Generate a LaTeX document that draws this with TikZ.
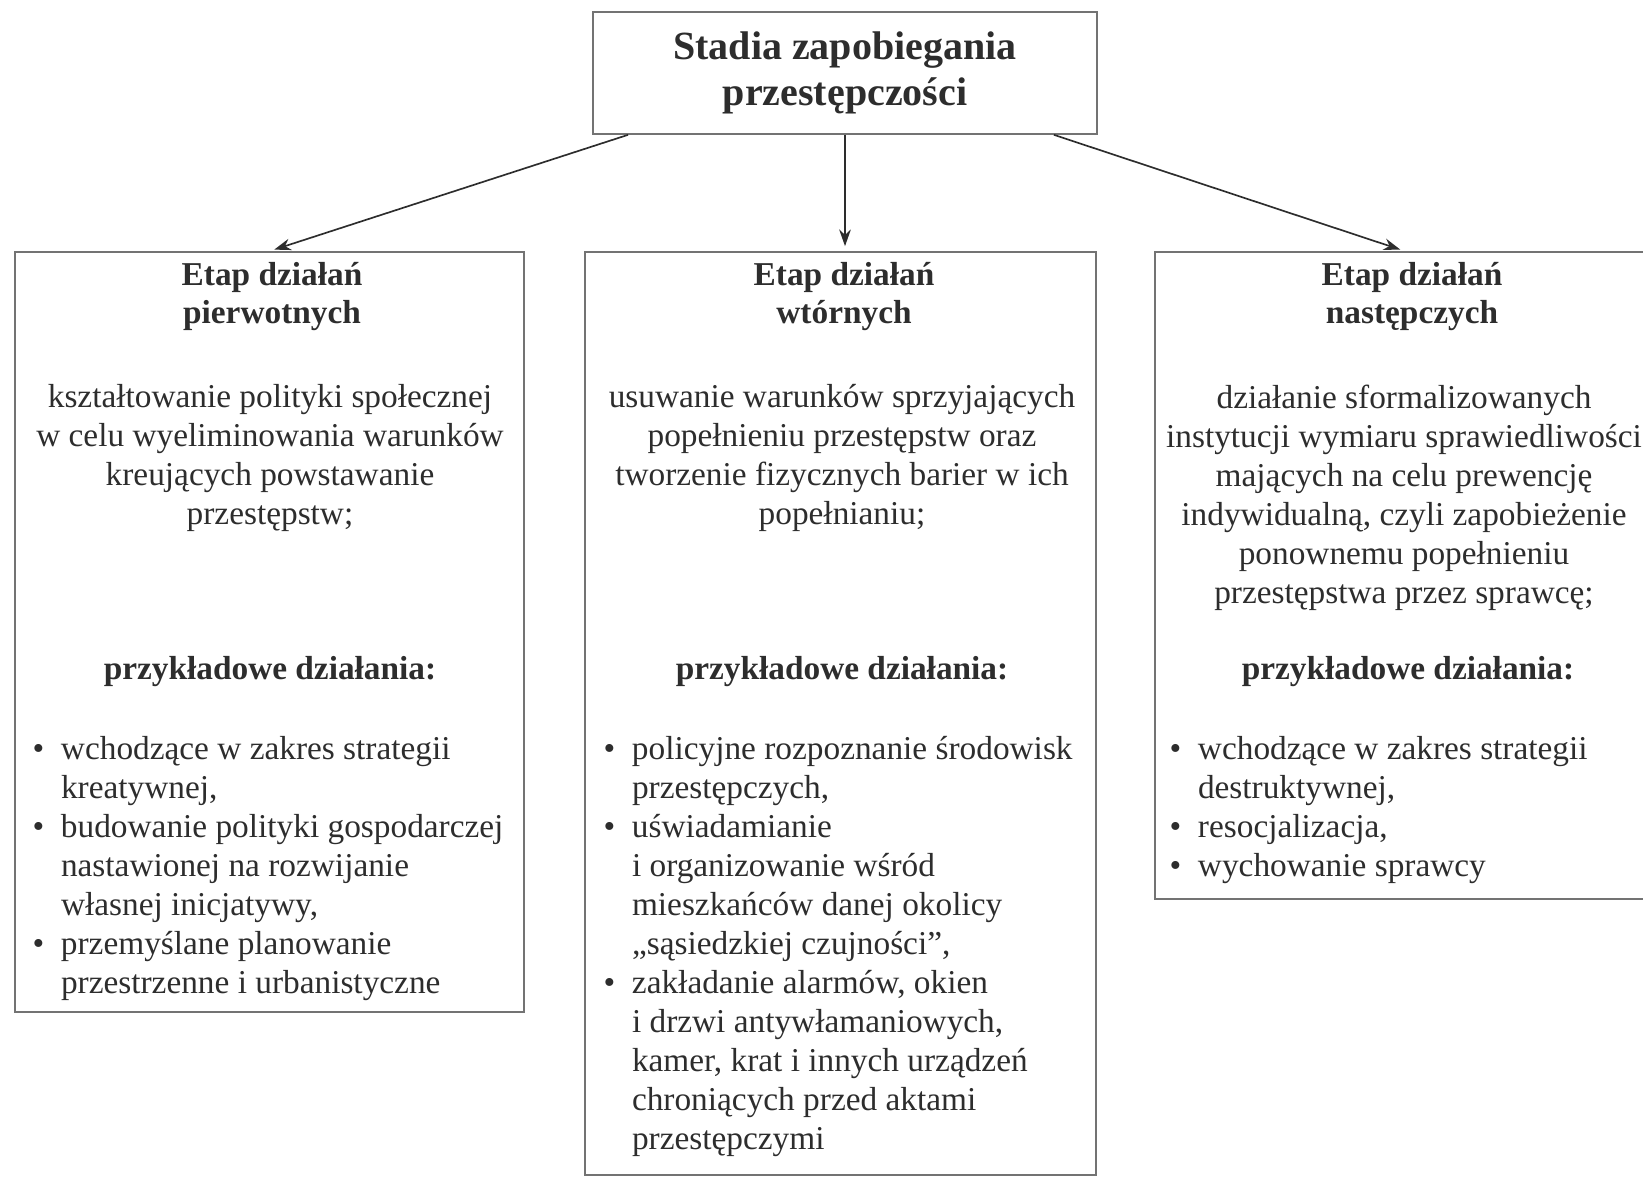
\documentclass[tikz,border=0pt]{standalone}
\usepackage{fontspec}
\setmainfont{Liberation Serif}
\usepackage{xcolor}
\usetikzlibrary{arrows.meta, positioning, calc}
\definecolor{inkgray}{RGB}{45,45,45}
\definecolor{framegray}{RGB}{115,115,115}
\newcommand{\pkt}{\makebox[8.5pt][l]{\textbullet}}
\newcommand{\wc}{\hspace*{8.5pt}}

\begin{document}
\begin{tikzpicture}[x=0.3pt, y=-0.3pt, text=inkgray,
    ramka/.style={draw=framegray, line width=0.5pt, inner sep=0pt},
    tekst/.style={font=\fontsize{10}{11.7}\selectfont, inner sep=0pt, align=center, anchor=north},
    naglowek/.style={tekst, font=\fontsize{10}{11.4}\selectfont\bfseries},
    lista/.style={tekst, align=left, anchor=north west},
    strzalka/.style={draw=inkgray, line width=0.5pt, -{Stealth[length=5pt, width=3.5pt]}, shorten >=1.5pt}]
    \useasboundingbox (0,0) rectangle (1643,1177);

    % Ramka tytulowa
    \node[ramka, minimum width=151.2pt, minimum height=36.6pt, font=\fontsize{12}{14}\selectfont\bfseries, align=center] (tytul) at (845,73) {Stadia zapobiegania\\przestępczości};

    % Ramki etapow
    \node[ramka, minimum width=152.7pt, minimum height=228pt] (pierwotne) at (269.5,632) {};
    \node[ramka, minimum width=153.3pt, minimum height=276.9pt] (wtorne) at (840.5,713.5) {};
    \node[ramka, minimum width=150pt, minimum height=194.1pt] (nastepcze) at (1405,575.5) {};

    % Strzalki
    \draw[strzalka] ($(tytul.south west)!0.071!(tytul.south east)$) -- (pierwotne.north);
    \draw[strzalka] (tytul.south) -- (tytul.south |- wtorne.north);
    \draw[strzalka] ($(tytul.south west)!0.913!(tytul.south east)$) -- (nastepcze.north);

    % Etap pierwotny
    \node[naglowek] (p-tyt) at (272,262) {Etap działań\\pierwotnych};
    \node[tekst] (p-opis) at (270,384) {kształtowanie polityki społecznej\\w celu wyeliminowania warunków\\kreujących powstawanie\\przestępstw;};
    \node[naglowek] (p-prz) at (270,656) {przykładowe działania:};
    \node[lista] (p-lista) at (32,736) {\pkt wchodzące w zakres strategii\\
        \wc kreatywnej,\\
        \pkt budowanie polityki gospodarczej\\
        \wc nastawionej na rozwijanie\\
        \wc własnej inicjatywy,\\
        \pkt przemyślane planowanie\\
        \wc przestrzenne i urbanistyczne};

    % Etap wtorny
    \node[naglowek] (w-tyt) at (844,262) {Etap działań\\wtórnych};
    \node[tekst] (w-opis) at (842,384) {usuwanie warunków sprzyjających\\popełnieniu przestępstw oraz\\tworzenie fizycznych barier w ich\\popełnianiu;};
    \node[naglowek] (w-prz) at (842,656) {przykładowe działania:};
    \node[lista] (w-lista) at (603,736) {\pkt policyjne rozpoznanie środowisk\\
        \wc przestępczych,\\
        \pkt uświadamianie\\
        \wc i organizowanie wśród\\
        \wc mieszkańców danej okolicy\\
        \wc „sąsiedzkiej czujności”,\\
        \pkt zakładanie alarmów, okien\\
        \wc i drzwi antywłamaniowych,\\
        \wc kamer, krat i innych urządzeń\\
        \wc chroniących przed aktami\\
        \wc przestępczymi};

    % Etap nastepczy
    \node[naglowek] (n-tyt) at (1412,262) {Etap działań\\następczych};
    \node[tekst] (n-opis) at (1404,384) {działanie sformalizowanych\\instytucji wymiaru sprawiedliwości\\mających na celu prewencję\\indywidualną, czyli zapobieżenie\\ponownemu popełnieniu\\przestępstwa przez sprawcę;};
    \node[naglowek] (n-prz) at (1408,656) {przykładowe działania:};
    \node[lista] (n-lista) at (1169,736) {\pkt wchodzące w zakres strategii\\
        \wc destruktywnej,\\
        \pkt resocjalizacja,\\
        \pkt wychowanie sprawcy};
\end{tikzpicture}
\end{document}
